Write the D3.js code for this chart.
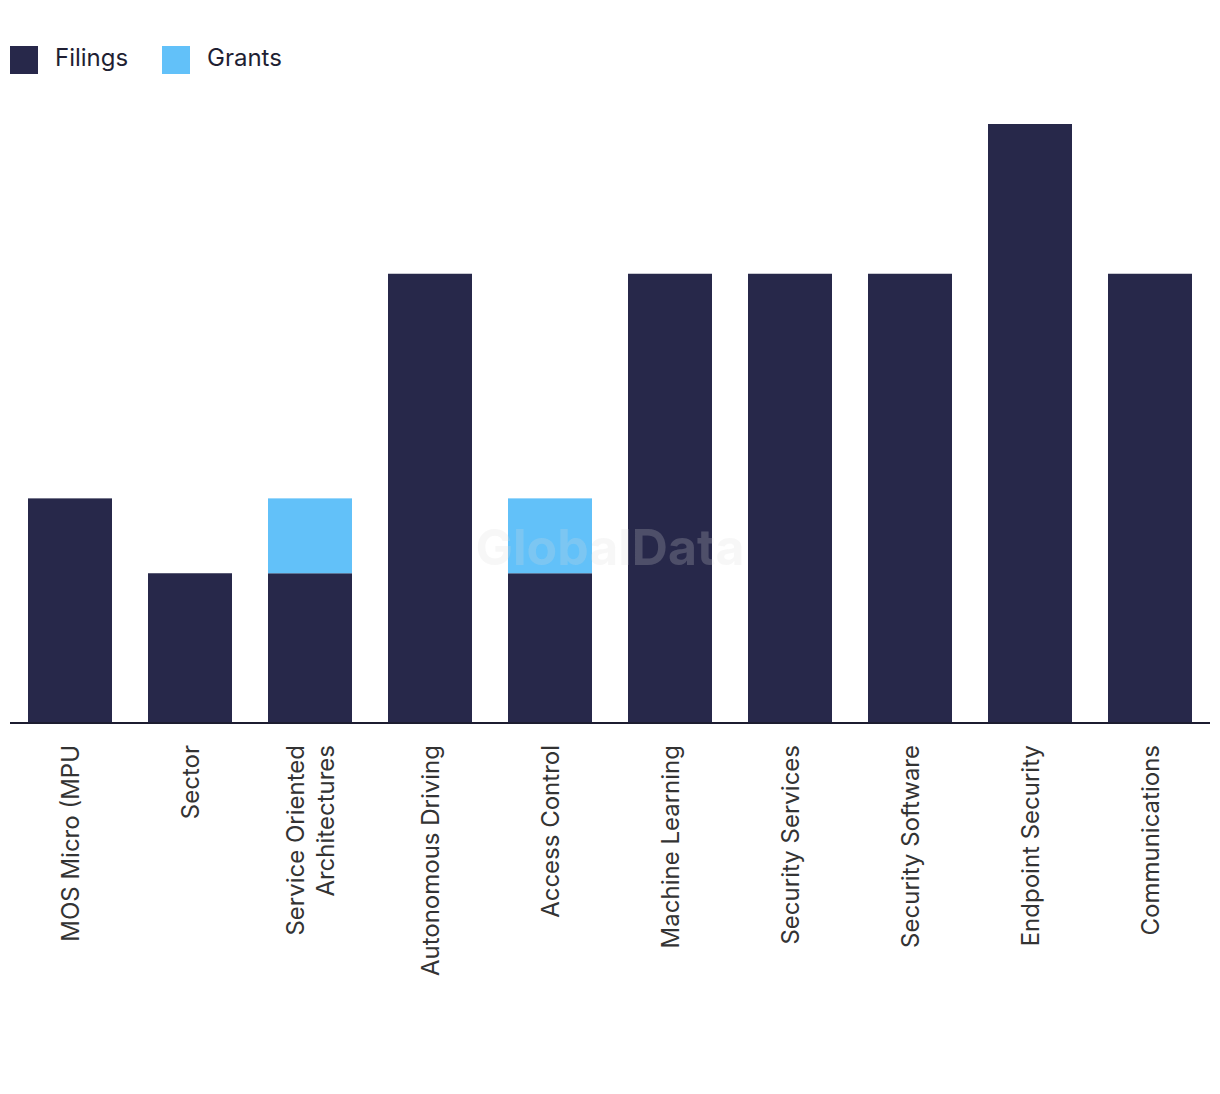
<!DOCTYPE html>
<html>
<head>
<meta charset="utf-8">
<script src="https://cdn.jsdelivr.net/npm/d3@7"></script>
<style>
  html, body { margin: 0; padding: 0; background: #fff; }
  svg { display: block; font-family: "Inter", "Roboto", sans-serif; }
</style>
</head>
<body>
<svg id="chart" width="1220" height="1094"></svg>
<script>
const categories = [
  ["MOS Micro (MPU"],
  ["Sector"],
  ["Service Oriented", "Architectures"],
  ["Autonomous Driving"],
  ["Access Control"],
  ["Machine Learning"],
  ["Security Services"],
  ["Security Software"],
  ["Endpoint Security"],
  ["Communications"]
];
const filings = [3, 2, 2, 6, 2, 6, 6, 6, 8, 6];
const grants  = [0, 0, 1, 0, 1, 0, 0, 0, 0, 0];
const seriesNames = ["Filings", "Grants"];
const colors = ["#27284a", "#62c1f9"];

(function () {
const svg = d3.select("#chart");
const mLeft = 10, mRight = 1210, mTop = 124, mBottom = 723;

const keys = categories.map(c => c.join(" "));
const x = d3.scaleBand().domain(keys).range([mLeft, mRight])
  .paddingInner(0.3).paddingOuter(0.15);
const y = d3.scaleLinear().domain([0, 8]).range([mBottom, mTop]);

const rows = keys.map((k, i) => ({ key: k, Filings: filings[i], Grants: grants[i] }));
const stacked = d3.stack().keys(seriesNames)(rows);

svg.append("g").selectAll("g").data(stacked).join("g")
  .attr("fill", (d, i) => colors[i])
  .selectAll("rect").data(d => d.filter(s => s[1] > s[0])).join("rect")
  .attr("x", d => x(d.data.key))
  .attr("width", x.bandwidth())
  .attr("y", d => y(d[1]))
  .attr("height", d => y(d[0]) - y(d[1]));

// axis line
svg.append("line")
  .attr("x1", mLeft).attr("x2", mRight)
  .attr("y1", mBottom).attr("y2", mBottom)
  .attr("stroke", "#1c1c30").attr("stroke-width", 2);

// category labels
const lineH = 30;
categories.forEach((lines, i) => {
  const cx = x(keys[i]) + x.bandwidth() / 2;
  const n = lines.length;
  lines.forEach((t, j) => {
    const off = (j - (n - 1) / 2) * lineH;
    svg.append("text")
      .attr("transform", `translate(${cx + off + 9},745) rotate(-90)`)
      .attr("text-anchor", "end")
      .attr("font-size", 24)
      .attr("fill", "#333333")
      .text(t);
  });
});

// legend
const leg = svg.append("g");
const legX = [10, 162];
seriesNames.forEach((name, i) => {
  leg.append("rect").attr("x", legX[i]).attr("y", 46).attr("width", 28).attr("height", 28)
    .attr("fill", colors[i]);
  leg.append("text").attr("x", legX[i] + 45).attr("y", 66)
    .attr("font-size", 24).attr("fill", "#1f1f33").text(name);
});

// watermark
svg.append("text")
  .attr("x", 610).attr("y", 565)
  .attr("text-anchor", "middle")
  .attr("font-size", 50).attr("font-weight", 700)
  .attr("fill", "#d9d9d9").attr("fill-opacity", 0.22)
  .text("GlobalData");
})();
</script>
</body>
</html>
